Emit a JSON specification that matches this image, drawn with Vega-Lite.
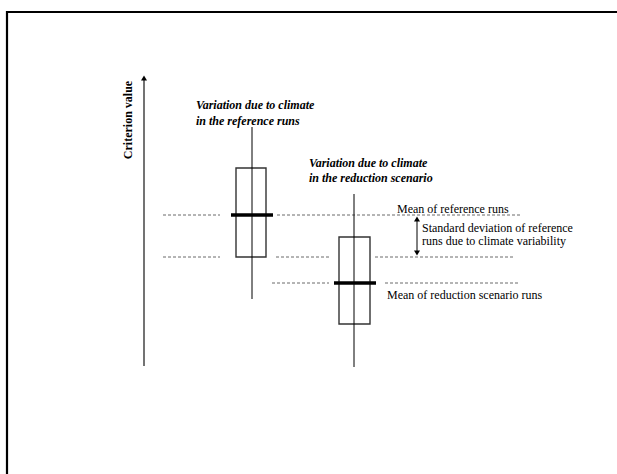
{
  "$schema": "https://vega.github.io/schema/vega-lite/v6.json",
  "width": 617,
  "height": 474,
  "padding": 0,
  "autosize": {"type": "none"},
  "config": {"view": {"stroke": null}, "axis": {"disable": true}},
  "encoding": {
    "x": {"field": "x", "type": "quantitative", "scale": {"domain": [0, 617], "nice": false, "zero": false}, "axis": null},
    "y": {"field": "y", "type": "quantitative", "scale": {"domain": [0, 474], "nice": false, "zero": false}, "axis": null}
  },
  "layer": [
    {
      "data": {"values": [
        {"x": 7, "y": 462, "x2": 620, "y2": 462},
        {"x": 7, "y": 463, "x2": 7, "y2": 0}
      ]},
      "mark": {"type": "rule", "color": "#000", "strokeWidth": 2.2},
      "encoding": {"x2": {"field": "x2"}, "y2": {"field": "y2"}}
    },
    {
      "data": {"values": [
        {"x": 163, "y": 259, "x2": 220, "y2": 259},
        {"x": 277, "y": 259, "x2": 520, "y2": 259},
        {"x": 163, "y": 217, "x2": 220, "y2": 217},
        {"x": 276, "y": 217, "x2": 329, "y2": 217},
        {"x": 375, "y": 217, "x2": 513, "y2": 217},
        {"x": 272, "y": 191, "x2": 329, "y2": 191},
        {"x": 385, "y": 191, "x2": 520, "y2": 191}
      ]},
      "mark": {"type": "rule", "color": "#444", "strokeWidth": 0.8, "strokeDash": [3, 2]},
      "encoding": {"x2": {"field": "x2"}, "y2": {"field": "y2"}}
    },
    {
      "data": {"values": [
        {"x": 144, "y": 394, "x2": 144, "y2": 108}
      ]},
      "mark": {"type": "rule", "color": "#444", "strokeWidth": 1.5},
      "encoding": {"x2": {"field": "x2"}, "y2": {"field": "y2"}}
    },
    {
      "data": {"values": [
        {"x": 236, "y": 306, "x2": 266, "y2": 217},
        {"x": 339, "y": 237, "x2": 370, "y2": 150}
      ]},
      "mark": {"type": "rect", "fill": null, "stroke": "#333", "strokeWidth": 1.4},
      "encoding": {"x2": {"field": "x2"}, "y2": {"field": "y2"}}
    },
    {
      "data": {"values": [
        {"x": 252, "y": 347, "x2": 252, "y2": 175},
        {"x": 354, "y": 280, "x2": 354, "y2": 107},
        {"x": 417, "y": 255, "x2": 417, "y2": 221}
      ]},
      "mark": {"type": "rule", "color": "#000", "strokeWidth": 1},
      "encoding": {"x2": {"field": "x2"}, "y2": {"field": "y2"}}
    },
    {
      "data": {"values": [
        {"x": 231, "y": 259, "x2": 273, "y2": 259},
        {"x": 334, "y": 191, "x2": 376, "y2": 191}
      ]},
      "mark": {"type": "rule", "color": "#000", "strokeWidth": 3.5},
      "encoding": {"x2": {"field": "x2"}, "y2": {"field": "y2"}}
    },
    {
      "data": {"values": [
        {"x": 144, "y": 396},
        {"x": 417, "y": 255}
      ]},
      "mark": {"type": "point", "shape": "triangle-up", "filled": true, "color": "#000", "size": 36, "opacity": 1}
    },
    {
      "data": {"values": [
        {"x": 417, "y": 221}
      ]},
      "mark": {"type": "point", "shape": "triangle-down", "filled": true, "color": "#000", "size": 36, "opacity": 1}
    },
    {
      "data": {"values": [
        {"x": 128, "y": 354, "label": "Criterion value"}
      ]},
      "mark": {"type": "text", "angle": 270, "font": "Liberation Serif", "fontWeight": "bold", "fontSize": 12, "align": "center", "baseline": "middle", "color": "#000"},
      "encoding": {"text": {"field": "label"}}
    },
    {
      "data": {"values": [
        {"x": 196, "y": 369, "label": "Variation due to climate"},
        {"x": 196, "y": 353, "label": "in the reference runs"},
        {"x": 309, "y": 311, "label": "Variation due to climate"},
        {"x": 309, "y": 296, "label": "in the reduction scenario"}
      ]},
      "mark": {"type": "text", "font": "Liberation Serif", "fontWeight": "bold", "fontStyle": "italic", "fontSize": 12, "align": "left", "baseline": "middle", "color": "#000"},
      "encoding": {"text": {"field": "label"}}
    },
    {
      "data": {"values": [
        {"x": 397, "y": 265, "label": "Mean of reference runs"},
        {"x": 422, "y": 246, "label": "Standard deviation of reference"},
        {"x": 422, "y": 233, "label": "runs due to climate variability"},
        {"x": 387, "y": 179, "label": "Mean of reduction scenario runs"}
      ]},
      "mark": {"type": "text", "font": "Liberation Serif", "fontSize": 12, "align": "left", "baseline": "middle", "color": "#000"},
      "encoding": {"text": {"field": "label"}}
    }
  ]
}
